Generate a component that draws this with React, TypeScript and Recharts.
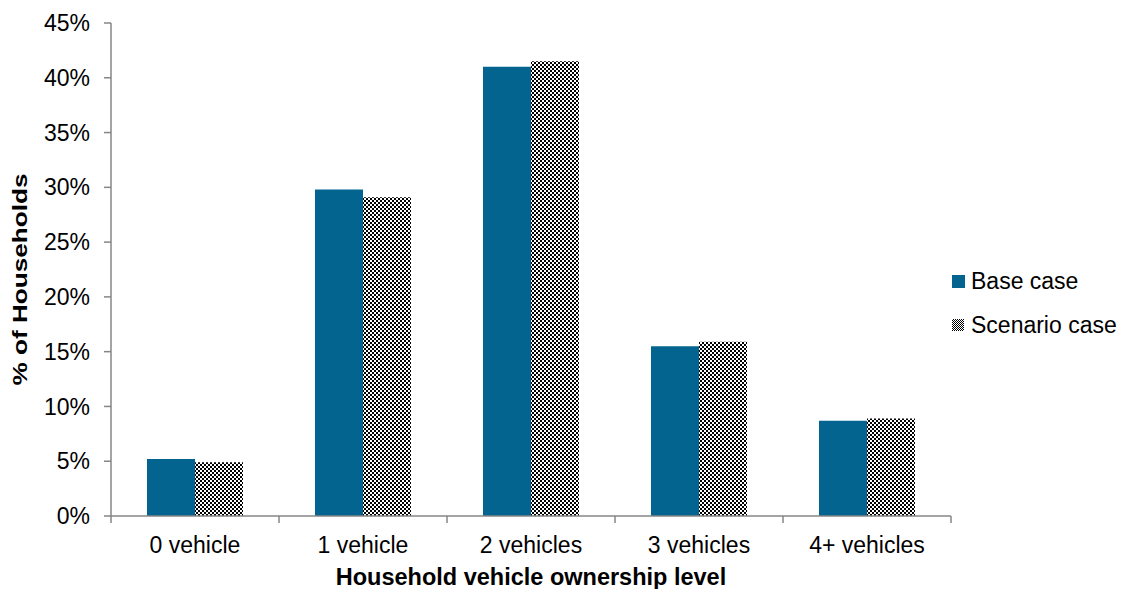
import React from 'react';
import { BarChart, Bar, XAxis, YAxis } from 'recharts';

const categories = ['0 vehicle', '1 vehicle', '2 vehicles', '3 vehicles', '4+ vehicles'];
const baseCase = [5.2, 29.8, 41.0, 15.5, 8.7];
const scenarioCase = [4.9, 29.1, 41.5, 15.9, 8.9];
const yTicks = [0, 5, 10, 15, 20, 25, 30, 35, 40, 45];
const seriesNames = ['Base case', 'Scenario case'];
const xTitle = 'Household vehicle ownership level';
const yTitle = '% of Households';

const data = categories.map((c, i) => ({ name: c, base: baseCase[i], scenario: scenarioCase[i] }));

const FONT = '"Liberation Sans", Arial, sans-serif';
const AXIS = '#868686';
const BLUE = '#03658F';

const XTick = (props: any) => {
  const { x, y, payload, index, visibleTicksCount } = props;
  const band = 168;
  return (
    <g>
      <line x1={x - band / 2} y1={y - 8} x2={x - band / 2} y2={y - 1} stroke={AXIS} strokeWidth={1.5} />
      {index === visibleTicksCount - 1 && (
        <line x1={x + band / 2} y1={y - 8} x2={x + band / 2} y2={y - 1} stroke={AXIS} strokeWidth={1.5} />
      )}
      <text x={x} y={y + 29} textAnchor="middle" fontSize={23} fontFamily={FONT} fill="#000">
        {payload.value}
      </text>
    </g>
  );
};

const YLabel = (props: any) => {
  const vb = props.viewBox || { x: 0, y: 23, width: 111, height: 493 };
  const cx = 20;
  const cy = vb.y + vb.height / 2 + 10;
  return (
    <text
      x={cx}
      y={cy}
      transform={`rotate(-90 ${cx} ${cy})`}
      textAnchor="middle"
      dominantBaseline="central"
      fontFamily={FONT}
      fontSize={20}
      fontWeight="bold"
      fill="#000"
      textLength={212}
      lengthAdjust="spacingAndGlyphs"
    >
      {yTitle}
    </text>
  );
};

export default function App() {
  return (
    <div style={{ position: 'absolute', left: 0, top: 0, width: 1128, height: 589, background: '#fff' }}>
      <BarChart
        width={1128}
        height={589}
        data={data}
        margin={{ top: 23, right: 177, bottom: 0, left: 0 }}
        barCategoryGap={36}
        barGap={0}
      >
        <defs>
          <pattern id="checker" width={4} height={4} patternUnits="userSpaceOnUse">
            <rect width={4} height={4} fill="#fff" />
            <rect width={2} height={2} fill="#000" />
            <rect x={2} y={2} width={2} height={2} fill="#000" />
          </pattern>
        </defs>
        <XAxis
          dataKey="name"
          height={73}
          axisLine={{ stroke: AXIS, strokeWidth: 1.5 }}
          tickLine={false}
          tick={<XTick />}
          interval={0}
          label={{
            value: xTitle,
            position: 'insideBottom',
            offset: 4,
            style: { fontFamily: FONT, fontSize: 23.5, fontWeight: 'bold', fill: '#000' },
          }}
        />
        <YAxis
          width={111}
          domain={[0, 45]}
          ticks={yTicks}
          interval={0}
          tickFormatter={(v: number) => `${v}%`}
          axisLine={{ stroke: AXIS, strokeWidth: 1.5 }}
          tickLine={{ stroke: AXIS, strokeWidth: 1.5 }}
          tickSize={7}
          tickMargin={14}
          tick={{ fontFamily: FONT, fontSize: 23, fill: '#000' }}
          label={<YLabel />}
        />
        <Bar dataKey="base" name={seriesNames[0]} fill={BLUE} isAnimationActive={false} />
        <Bar dataKey="scenario" name={seriesNames[1]} fill="url(#checker)" isAnimationActive={false} />
      </BarChart>
      <svg width={1128} height={589} style={{ position: 'absolute', left: 0, top: 0, pointerEvents: 'none' }}>
        <defs>
          <pattern id="checkerSmall" width={2} height={2} patternUnits="userSpaceOnUse">
            <rect width={2} height={2} fill="#fff" />
            <rect width={1} height={1} fill="#000" />
            <rect x={1} y={1} width={1} height={1} fill="#000" />
          </pattern>
        </defs>
        <rect x={952} y={275} width={13} height={13} fill={BLUE} />
        <text x={971} y={289} fontFamily={FONT} fontSize={23} fill="#000">{seriesNames[0]}</text>
        <rect x={952} y={319} width={12} height={12} fill="url(#checkerSmall)" />
        <text x={971} y={333} fontFamily={FONT} fontSize={23} fill="#000">{seriesNames[1]}</text>
      </svg>
    </div>
  );
}
